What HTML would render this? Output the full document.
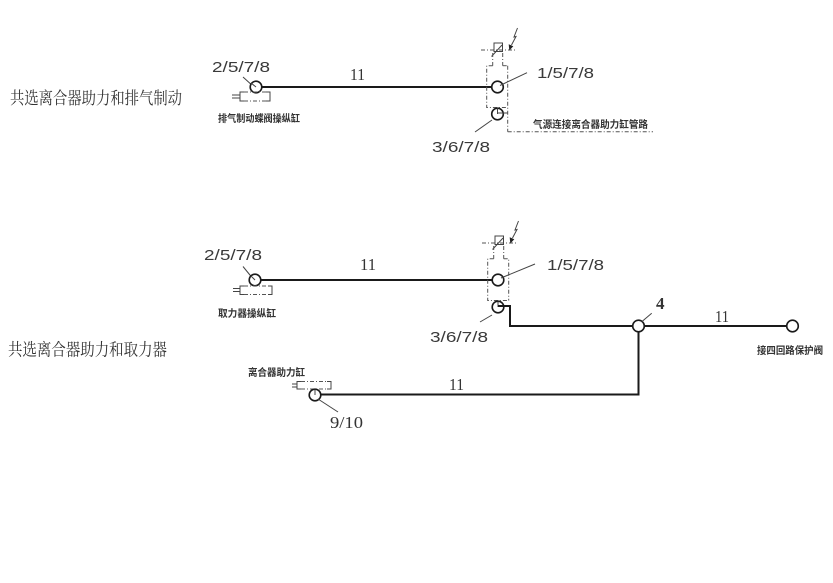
<!DOCTYPE html>
<html>
<head>
<meta charset="utf-8">
<style>
html,body{margin:0;padding:0;background:#fff;}
svg{display:block;}
.t{font-family:"Liberation Serif","Noto Serif CJK SC",serif;fill:#333;}
.n{font-family:"Liberation Sans",sans-serif;fill:#3a3a3a;font-size:15px;}
.s{font-family:"Liberation Serif",serif;fill:#333;font-size:17px;}
.l{font-family:"Liberation Sans","Noto Sans CJK SC",sans-serif;fill:#333;font-size:10px;font-weight:bold;}
.main{stroke:#1a1a1a;stroke-width:2;fill:none;}
.thin{stroke:#444;stroke-width:1;fill:none;}
.dash{stroke:#555;stroke-width:1;fill:none;stroke-dasharray:4 2 1 2;}
.c{stroke:#1a1a1a;stroke-width:1.6;fill:#fff;}
</style>
</head>
<body>
<svg width="833" height="583" viewBox="0 0 833 583" xmlns="http://www.w3.org/2000/svg">
<rect width="833" height="583" fill="#fff"/>

<!-- ===== Section 1 ===== -->
<text class="t" x="10" y="104" font-size="17" textLength="172" lengthAdjust="spacingAndGlyphs">共选离合器助力和排气制动</text>

<text class="n" x="212" y="72" textLength="58" lengthAdjust="spacingAndGlyphs">2/5/7/8</text>
<line class="thin" x1="243" y1="77" x2="254" y2="87"/>
<line class="main" x1="261" y1="87" x2="492" y2="87"/>
<circle class="c" cx="256" cy="87" r="5.8"/>
<line class="thin" x1="251" y1="83" x2="256" y2="87"/>
<text class="s" x="350" y="80" textLength="15" lengthAdjust="spacingAndGlyphs">11</text>

<!-- cylinder 1 -->
<line class="thin" x1="232" y1="95" x2="240" y2="95"/>
<line class="thin" x1="232" y1="98" x2="240" y2="98"/>
<polyline class="thin" points="244,92 240,92 240,101 244,101"/>
<polyline class="thin" points="266,92 270,92 270,101 266,101"/>
<line class="dash" x1="244" y1="92" x2="266" y2="92"/>
<line class="dash" x1="244" y1="101" x2="266" y2="101"/>
<text class="l" x="218" y="122" textLength="82" lengthAdjust="spacingAndGlyphs">排气制动蝶阀操纵缸</text>

<!-- valve 1 -->
<g>
<line class="dash" x1="481" y1="50" x2="515" y2="50"/>
<rect x="494" y="43" width="8.5" height="8.5" fill="none" stroke="#444" stroke-width="1"/>
<line class="thin" x1="491.5" y1="56.5" x2="502" y2="45"/>
<polyline class="thin" points="517.5,28 514,37 516,36.5 511.5,45"/>
<polygon points="509.3,50.5 508.7,44.3 513.3,46.2" fill="#222"/>
<line class="dash" x1="492.7" y1="53" x2="492.7" y2="65.7"/>
<line class="dash" x1="502.7" y1="53" x2="502.7" y2="65.7"/>
<polyline class="dash" points="492.7,65.7 486.7,65.7 486.7,107.5 507.7,107.5"/>
<line class="dash" x1="502.7" y1="65.7" x2="507.7" y2="65.7"/>
</g>
<line class="dash" x1="507.7" y1="65.7" x2="507.7" y2="131.7"/>
<line class="dash" x1="507.7" y1="131.7" x2="653" y2="131.7"/>
<circle class="c" cx="497.5" cy="87" r="5.8"/>
<circle class="c" cx="497.5" cy="114" r="5.8"/>
<line class="thin" x1="497.5" y1="108.5" x2="497.5" y2="114"/>
<line class="thin" x1="497.5" y1="113" x2="507.7" y2="113"/>
<line class="thin" x1="527" y1="72.7" x2="500" y2="85.5"/>
<text class="n" x="537" y="78" textLength="57" lengthAdjust="spacingAndGlyphs">1/5/7/8</text>
<line class="thin" x1="492" y1="120" x2="475" y2="132"/>
<text class="n" x="432" y="152" textLength="58" lengthAdjust="spacingAndGlyphs">3/6/7/8</text>
<text class="l" x="533" y="128" textLength="115" lengthAdjust="spacingAndGlyphs">气源连接离合器助力缸管路</text>

<!-- ===== Section 2 ===== -->
<text class="t" x="8" y="355.5" font-size="17" textLength="159" lengthAdjust="spacingAndGlyphs">共选离合器助力和取力器</text>

<text class="n" x="204" y="260" textLength="58" lengthAdjust="spacingAndGlyphs">2/5/7/8</text>
<line class="thin" x1="243" y1="266.5" x2="254" y2="280"/>
<line class="main" x1="260" y1="280" x2="493" y2="280"/>
<circle class="c" cx="255" cy="280" r="5.8"/>
<line class="thin" x1="251" y1="276" x2="255" y2="280"/>
<text class="s" x="360" y="270" textLength="16" lengthAdjust="spacingAndGlyphs">11</text>

<!-- cylinder 2 -->
<line class="thin" x1="233" y1="288.5" x2="240" y2="288.5"/>
<line class="thin" x1="233" y1="291.5" x2="240" y2="291.5"/>
<polyline class="thin" points="244,286 240,286 240,294.5 244,294.5"/>
<polyline class="thin" points="268,286 272,286 272,294.5 268,294.5"/>
<line class="dash" x1="244" y1="286" x2="268" y2="286"/>
<line class="dash" x1="244" y1="294.5" x2="268" y2="294.5"/>
<text class="l" x="218" y="317" textLength="58" lengthAdjust="spacingAndGlyphs">取力器操纵缸</text>

<!-- valve 2 -->
<g transform="translate(1,193)">
<line class="dash" x1="481" y1="50" x2="515" y2="50"/>
<rect x="494" y="43" width="8.5" height="8.5" fill="none" stroke="#444" stroke-width="1"/>
<line class="thin" x1="491.5" y1="56.5" x2="502" y2="45"/>
<polyline class="thin" points="517.5,28 514,37 516,36.5 511.5,45"/>
<polygon points="509.3,50.5 508.7,44.3 513.3,46.2" fill="#222"/>
<line class="dash" x1="492.7" y1="53" x2="492.7" y2="65.7"/>
<line class="dash" x1="502.7" y1="53" x2="502.7" y2="65.7"/>
<polyline class="dash" points="492.7,65.7 486.7,65.7 486.7,107.5 507.7,107.5"/>
<polyline class="dash" points="502.7,65.7 507.7,65.7 507.7,107.5"/>
</g>
<circle class="c" cx="498" cy="280" r="5.8"/>
<circle class="c" cx="498" cy="307" r="5.8"/>
<line class="thin" x1="498" y1="301.5" x2="498" y2="307"/>
<polyline class="main" points="498,306 510,306 510,326 633,326"/>
<line class="thin" x1="535" y1="264" x2="501" y2="278"/>
<text class="n" x="547" y="270" textLength="57" lengthAdjust="spacingAndGlyphs">1/5/7/8</text>
<line class="thin" x1="492" y1="315" x2="480" y2="322"/>
<text class="n" x="430" y="342" textLength="58" lengthAdjust="spacingAndGlyphs">3/6/7/8</text>

<!-- junction 4 -->
<line class="main" x1="643" y1="326" x2="787" y2="326"/>
<polyline class="main" points="638.5,326 638.5,394.5 320,394.5"/>
<circle class="c" cx="638.5" cy="326" r="5.8" fill="none"/>
<line class="thin" x1="651.7" y1="313.3" x2="641.7" y2="321.7"/>
<text class="s" x="656" y="309" font-weight="bold" font-size="16">4</text>
<text class="s" x="715" y="322" textLength="14" lengthAdjust="spacingAndGlyphs">11</text>
<circle class="c" cx="792.5" cy="326" r="5.8"/>
<text class="l" x="757" y="354" textLength="66" lengthAdjust="spacingAndGlyphs">接四回路保护阀</text>

<!-- clutch cylinder -->
<text class="l" x="248" y="376" textLength="57" lengthAdjust="spacingAndGlyphs">离合器助力缸</text>
<line class="thin" x1="292" y1="384" x2="297" y2="384"/>
<line class="thin" x1="292" y1="387" x2="297" y2="387"/>
<polyline class="thin" points="301,381.5 297,381.5 297,389 301,389"/>
<polyline class="thin" points="327,381.5 331,381.5 331,389 327,389"/>
<line class="dash" x1="301" y1="381.5" x2="327" y2="381.5"/>
<line class="dash" x1="301" y1="389" x2="327" y2="389"/>
<circle class="c" cx="315" cy="395" r="5.8"/>
<line class="thin" x1="315" y1="389.5" x2="315" y2="395"/>
<line class="thin" x1="318" y1="399" x2="338" y2="412"/>
<text class="s" x="449" y="390" textLength="15" lengthAdjust="spacingAndGlyphs">11</text>
<text class="s" x="330" y="428" textLength="33" lengthAdjust="spacingAndGlyphs">9/10</text>
</svg>
</body>
</html>
